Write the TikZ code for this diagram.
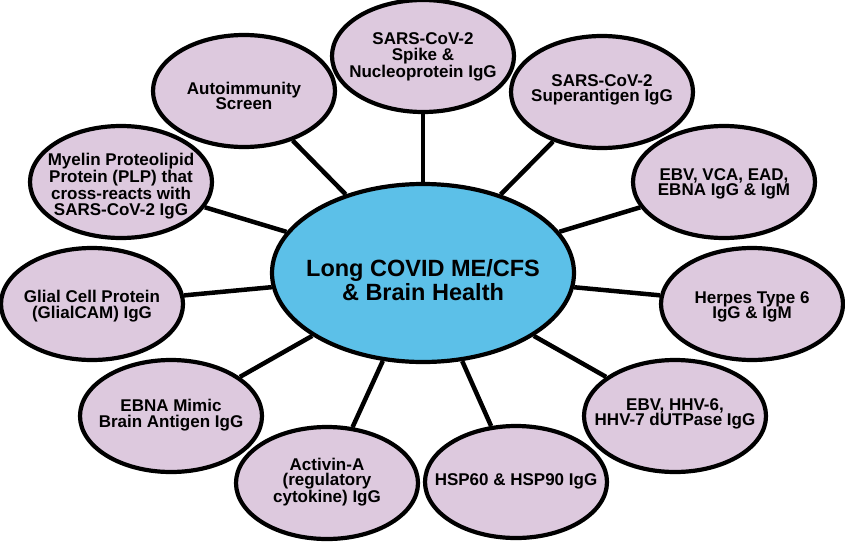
\documentclass[tikz,border=0pt]{standalone}
\usepackage{fontspec}
\setmainfont{Liberation Sans}
\usetikzlibrary{shapes.geometric}
\definecolor{lav}{RGB}{221,201,222}
\definecolor{skyb}{RGB}{92,192,232}
\tikzset{
  bubble/.style={ellipse, draw=black, line width=4.2pt, fill=lav, inner sep=0pt,
    minimum width=182pt, minimum height=112pt},
  hub/.style={ellipse, draw=black, line width=4.2pt, fill=skyb, inner sep=0pt,
    minimum width=302pt, minimum height=178pt},
  btext/.style={align=center, inner sep=0pt, font=\bfseries\fontsize{17}{15.6}\selectfont},
  htext/.style={align=center, inner sep=0pt, font=\bfseries\fontsize{23.5}{24}\selectfont},
  link/.style={line width=4.5pt, black}
}
\begin{document}
\begin{tikzpicture}[x=1pt,y=-1pt]
\useasboundingbox (0,0) rectangle (845,541);
\node[hub] (c) at (423,273) {};
\node[bubble] (spike) at (423,56) {};
\node[bubble] (auto) at (244,91) {};
\node[bubble] (super) at (602,92) {};
\node[bubble] (myelin) at (121,182) {};
\node[bubble] (ebv) at (724,182) {};
\node[bubble] (glial) at (92,304) {};
\node[bubble] (herpes) at (752,304) {};
\node[bubble] (ebna) at (171,416) {};
\node[bubble] (hhv) at (675,416) {};
\node[bubble] (activin) at (327,483) {};
\node[bubble] (hsp) at (516,482) {};
\node[htext] (ct) at (423,280) {Long COVID ME/CFS\\\& Brain Health};
\node[btext] (spiket) at (423,57) {SARS-CoV-2\\Spike \&\\Nucleoprotein IgG};
\node[btext] (autot) at (244,96) {Autoimmunity\\Screen};
\node[btext] (supert) at (602,90) {SARS-CoV-2\\Superantigen IgG};
\node[btext] (myelint) at (121,186) {Myelin Proteolipid\\Protein (PLP) that\\cross-reacts with\\SARS-CoV-2 IgG};
\node[btext] (ebvt) at (724,184) {EBV, VCA, EAD,\\EBNA IgG \& IgM};
\node[btext] (glialt) at (92,306) {Glial Cell Protein\\(GlialCAM) IgG};
\node[btext] (herpest) at (752,307) {Herpes Type 6\\IgG \& IgM};
\node[btext] (ebnat) at (171,415) {EBNA Mimic\\Brain Antigen IgG};
\node[btext] (hhvt) at (675,414) {EBV, HHV-6,\\HHV-7 dUTPase IgG};
\node[btext] (activint) at (327,482) {Activin-A\\(regulatory\\cytokine) IgG};
\node[btext] (hspt) at (516,481) {HSP60 \& HSP90 IgG};
\foreach \n in {spike,auto,super,myelin,ebv,glial,herpes,ebna,hhv,activin,hsp}
  \draw[link] (c) -- (\n);
\end{tikzpicture}
\end{document}
